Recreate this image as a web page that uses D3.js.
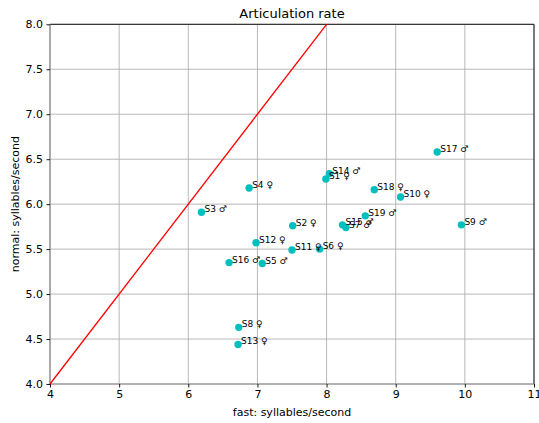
<!DOCTYPE html>
<html>
<head>
<meta charset="utf-8">
<script src="https://cdn.jsdelivr.net/npm/d3@7"></script>
<style>
  html, body { margin: 0; padding: 0; background: #fff; }
  svg { display: block; font-family: "DejaVu Sans", sans-serif; }
</style>
</head>
<body>
<svg id="chart" width="539" height="423"></svg>
<script>
// Speakers and their articulation rates (syllables/second)
const speakers = ["S1","S2","S3","S4","S5","S6","S7","S8","S9","S10",
                  "S11","S12","S13","S14","S15","S16","S17","S18","S19"];
const sexes    = ["♀","♀","♂","♀","♂","♀","♂","♀","♂","♀",
                  "♀","♀","♀","♂","♂","♂","♂","♀","♂"];
const fastRate   = [7.99, 7.51, 6.19, 6.88, 7.07, 7.90, 8.28, 6.73, 9.95, 9.07,
                    7.50, 6.98, 6.72, 8.04, 8.23, 6.59, 9.60, 8.69, 8.56];
const normalRate = [6.28, 5.76, 5.91, 6.18, 5.34, 5.50, 5.74, 4.63, 5.77, 6.08,
                    5.49, 5.57, 4.44, 6.34, 5.77, 5.35, 6.58, 6.16, 5.87];
const xTicks = [4, 5, 6, 7, 8, 9, 10, 11];
const yTicks = [4.0, 4.5, 5.0, 5.5, 6.0, 6.5, 7.0, 7.5, 8.0];
const xDomain = [4, 11];
const yDomain = [4, 8];
const identityLine = [[4, 4], [8, 8]];

const svg = d3.select("#chart");
const plotLeft = 50, plotRight = 534, plotTop = 24.3, plotBottom = 384;

const x = d3.scaleLinear().domain(xDomain).range([plotLeft, plotRight]);
const y = d3.scaleLinear().domain(yDomain).range([plotBottom, plotTop]);

// grid
const grid = svg.append("g");
grid.selectAll("line.vx").data(xTicks).join("line")
  .attr("x1", d => x(d)).attr("x2", d => x(d))
  .attr("y1", plotTop).attr("y2", plotBottom)
  .attr("stroke", "#b0b0b0").attr("stroke-width", 0.9);
grid.selectAll("line.hy").data(yTicks).join("line")
  .attr("x1", plotLeft).attr("x2", plotRight)
  .attr("y1", d => y(d)).attr("y2", d => y(d))
  .attr("stroke", "#b0b0b0").attr("stroke-width", 0.9);

// frame: top and right black, left and bottom softened by the grid
svg.append("line").attr("x1", plotLeft).attr("x2", plotRight).attr("y1", plotTop).attr("y2", plotTop)
  .attr("stroke", "#000").attr("stroke-width", 0.9);
svg.append("line").attr("x1", plotRight).attr("x2", plotRight).attr("y1", plotTop).attr("y2", plotBottom)
  .attr("stroke", "#000").attr("stroke-width", 0.9);
svg.append("line").attr("x1", plotLeft).attr("x2", plotLeft).attr("y1", plotTop).attr("y2", plotBottom)
  .attr("stroke", "#888").attr("stroke-width", 1.2);
svg.append("line").attr("x1", plotLeft).attr("x2", plotRight).attr("y1", plotBottom).attr("y2", plotBottom)
  .attr("stroke", "#888").attr("stroke-width", 1.2);

// axes
const xAxis = svg.append("g").attr("transform", `translate(0,${plotBottom})`)
  .call(d3.axisBottom(x).tickValues(xTicks).tickFormat(d3.format("d"))
        .tickSize(3.5).tickPadding(3));
const yAxis = svg.append("g").attr("transform", `translate(${plotLeft},0)`)
  .call(d3.axisLeft(y).tickValues(yTicks).tickFormat(d3.format(".1f"))
        .tickSize(3.5).tickPadding(3.5));
[xAxis, yAxis].forEach(a => {
  a.select(".domain").remove();
  a.selectAll(".tick line").attr("stroke", "#000").attr("stroke-width", 0.9);
  a.selectAll(".tick text").attr("fill", "#000")
    .style("font-family", "DejaVu Sans").style("font-size", "11px");
});

// identity line y = x
svg.append("path")
  .datum(identityLine)
  .attr("d", d3.line().x(d => x(d[0])).y(d => y(d[1])))
  .attr("stroke", "#ff0000").attr("stroke-width", 1.3).attr("fill", "none");

// points
const idx = d3.range(speakers.length);
svg.append("g").selectAll("circle").data(idx).join("circle")
  .attr("cx", i => x(fastRate[i]))
  .attr("cy", i => y(normalRate[i]))
  .attr("r", 3.7)
  .attr("fill", "#00bfbf");

// speaker labels
svg.append("g").selectAll("text").data(idx).join("text")
  .attr("x", i => x(fastRate[i]) + 3)
  .attr("y", i => y(normalRate[i]))
  .attr("font-size", 9)
  .attr("fill", "#000")
  .text(i => `${speakers[i]} ${sexes[i]}`);

// titles
svg.append("text").attr("x", (plotLeft + plotRight) / 2).attr("y", 18)
  .attr("text-anchor", "middle").attr("font-size", 13).attr("fill", "#000")
  .text("Articulation rate");
svg.append("text").attr("x", (plotLeft + plotRight) / 2).attr("y", 416)
  .attr("text-anchor", "middle").attr("font-size", 11).attr("fill", "#000")
  .text("fast: syllables/second");
svg.append("text")
  .attr("transform", `translate(19,${(plotTop + plotBottom) / 2}) rotate(-90)`)
  .attr("text-anchor", "middle").attr("font-size", 11).attr("fill", "#000")
  .text("normal: syllables/second");
</script>
</body>
</html>
